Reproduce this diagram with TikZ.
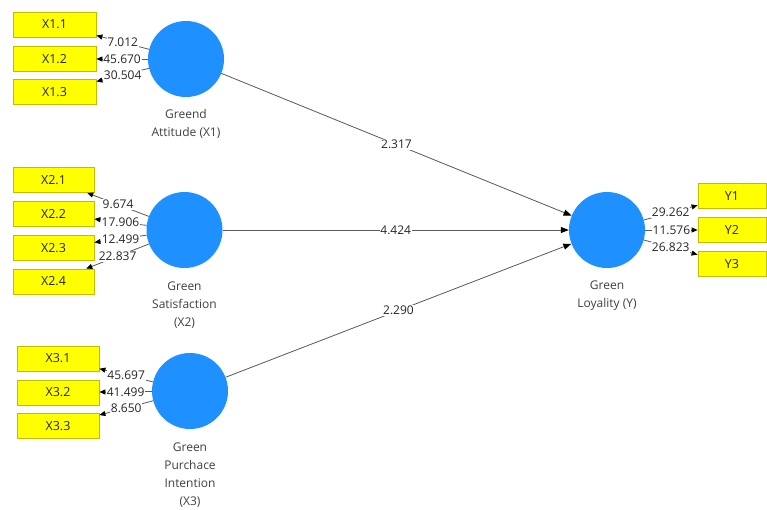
\documentclass[tikz,border=0pt]{standalone}
\usepackage{fontspec}
\setmainfont{Open Sans}
\usetikzlibrary{arrows.meta, positioning, backgrounds}
\definecolor{lvblue}{RGB}{30,144,255}
\definecolor{mvyel}{RGB}{255,255,0}
\definecolor{mvedge}{RGB}{190,190,0}
\tikzset{
  lat/.style = {circle, fill=lvblue, minimum size=76pt, inner sep=0pt},
  ind/.style = {draw=mvedge, fill=mvyel, minimum height=25pt, inner sep=0pt,
    line width=0.8pt, text=black!85, font=\fontsize{12.5}{14}\selectfont},
  lbl/.style = {align=center, text=black!75, inner sep=0pt,
    font=\fontsize{12}{18}\selectfont},
  ld/.style = {-{Triangle[length=6pt,width=5pt,black]}, draw=black!65,
    line width=0.8pt},
  pth/.style = {-{Triangle[length=8pt,width=6pt,black]}, draw=black!65,
    line width=0.8pt},
  val/.style = {fill=white, inner sep=0.8pt, text=black!85,
    font=\fontsize{12}{14}\selectfont}
}

\begin{document}
\begin{tikzpicture}[x=1pt, y=-1pt]
  \useasboundingbox [fill=white] (0,0) rectangle (767,509);

  % latent variables
  \node [lat] (x1) at (186,59) {};
  \node [lat] (x2) at (184.5,230) {};
  \node [lat] (x3) at (190,391) {};
  \node [lat] (y) at (607,230) {};

  \node [lbl] (x1c) at (186,124) {Greend\\Attitude (X1)};
  \node [lbl] (x2c) at (184.5,305) {Green\\Satisfaction\\(X2)};
  \node [lbl] (x3c) at (190,475.5) {Green\\Purchace\\Intention\\(X3)};
  \node [lbl] (yc) at (607,296) {Green\\Loyality (Y)};

  % indicators
  \node [ind, minimum width=83pt] (x11) at (54.5,24.5) {X1.1};
  \node [ind, minimum width=83pt] (x12) at (54.5,59) {X1.2};
  \node [ind, minimum width=83pt] (x13) at (54.5,92) {X1.3};
  \node [ind, minimum width=81pt] (x21) at (53.5,180) {X2.1};
  \node [ind, minimum width=81pt] (x22) at (53.5,214) {X2.2};
  \node [ind, minimum width=81pt] (x23) at (53.5,248) {X2.3};
  \node [ind, minimum width=81pt] (x24) at (53.5,281.5) {X2.4};
  \node [ind, minimum width=82pt] (x31) at (58,358.5) {X3.1};
  \node [ind, minimum width=82pt] (x32) at (58,392.5) {X3.2};
  \node [ind, minimum width=82pt] (x33) at (58,426) {X3.3};
  \node [ind, minimum width=68pt] (y1) at (732,196) {Y1};
  \node [ind, minimum width=68pt] (y2) at (732,230) {Y2};
  \node [ind, minimum width=68pt] (y3) at (732,264) {Y3};

  % outer loadings
  \foreach \l/\i/\v in {x1/x11/7.012, x1/x12/45.670, x1/x13/30.504,
      x2/x21/9.674, x2/x22/17.906, x2/x23/12.499, x2/x24/22.837,
      x3/x31/45.697, x3/x32/41.499, x3/x33/8.650,
      y/y1/29.262, y/y2/11.576, y/y3/26.823}
    \draw [ld] (\l) -- node [val] {\v} (\i);

  % structural paths
  \draw [pth] (x1) -- node [val] {2.317} (y);
  \draw [pth] (x2) -- node [val] {4.424} (y);
  \draw [pth] (x3) -- node [val] {2.290} (y);
\end{tikzpicture}
\end{document}
